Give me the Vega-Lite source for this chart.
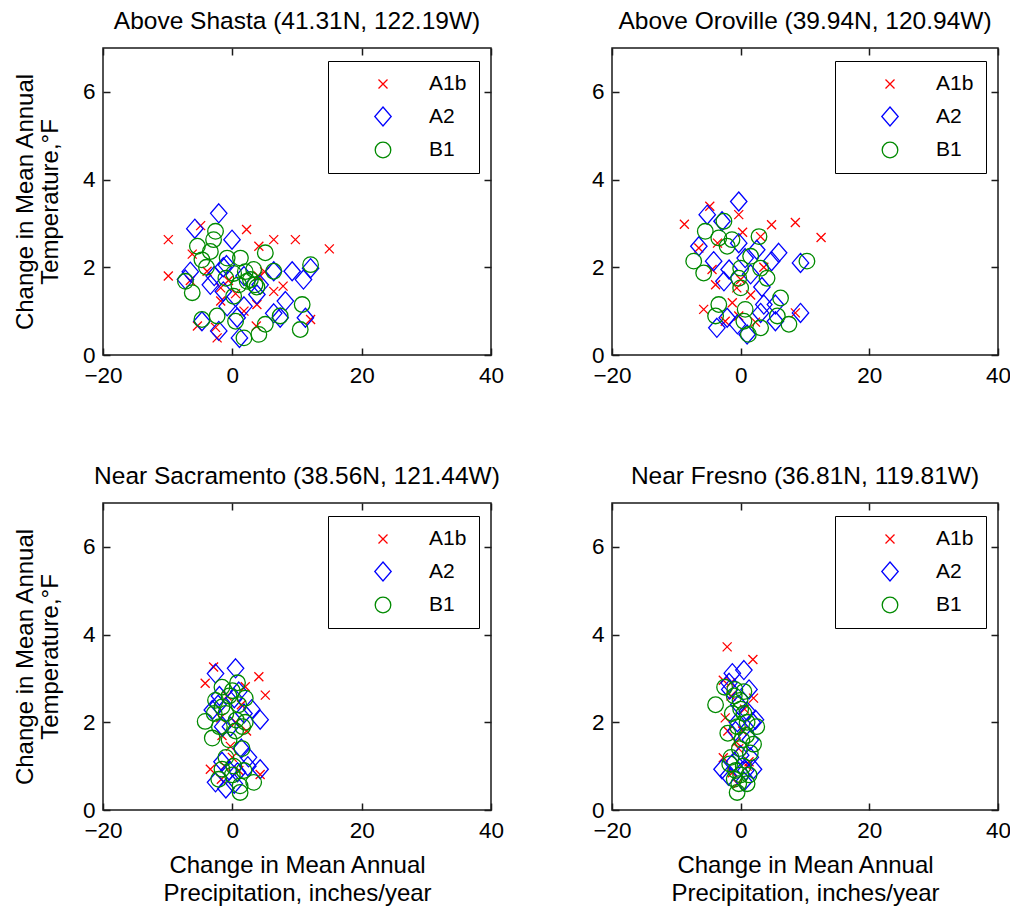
{
  "$schema": "https://vega.github.io/schema/vega-lite/v6.json",
  "background": "white",
  "padding": {"left": 12, "top": 8, "right": 2, "bottom": 8},
  "config": {
    "font": "Liberation Sans",
    "view": {"stroke": "#1a1a1a", "strokeWidth": 1.5},
    "axis": {
      "grid": false, "domain": false, "ticks": true,
      "tickSize": -7, "tickColor": "#1a1a1a", "tickWidth": 1.5,
      "labelFont": "Liberation Sans", "labelFontSize": 22.5, "labelColor": "#000",
      "labelPadding": 15, "labelFlush": false, "labelOverlap": false,
      "titleFont": "Liberation Sans", "titleFontSize": 24, "titleFontWeight": "normal",
      "titleColor": "#000"
    },
    "axisBottom": {"labelPadding": 16},
    "title": {"font": "Liberation Sans", "fontSize": 24.5, "fontWeight": "normal", "color": "#000", "offset": 13},
    "legend": {
      "title": null, "orient": "top-right", "offset": 12.5,
      "strokeColor": "#000", "fillColor": "white", "padding": 12,
      "symbolOffset": 32, "labelOffset": 35, "rowPadding": 9.5,
      "symbolSize": 400, "symbolStrokeWidth": 1.3,
      "labelFont": "Liberation Sans", "labelFontSize": 21, "labelColor": "#000"
    }
  },
  "data": {"values": [
    {"site": "Shasta", "scenario": "A1b", "precip": -9.9, "temp": 2.63},
    {"site": "Shasta", "scenario": "A1b", "precip": -9.9, "temp": 1.80},
    {"site": "Shasta", "scenario": "A1b", "precip": -4.9, "temp": 2.95},
    {"site": "Shasta", "scenario": "A1b", "precip": 2.2, "temp": 2.86},
    {"site": "Shasta", "scenario": "A1b", "precip": 6.4, "temp": 2.63},
    {"site": "Shasta", "scenario": "A1b", "precip": 9.75, "temp": 2.63},
    {"site": "Shasta", "scenario": "A1b", "precip": 15.0, "temp": 2.42},
    {"site": "Shasta", "scenario": "A1b", "precip": -6.2, "temp": 2.30},
    {"site": "Shasta", "scenario": "A1b", "precip": 4.1, "temp": 2.48},
    {"site": "Shasta", "scenario": "A1b", "precip": 7.85, "temp": 1.57},
    {"site": "Shasta", "scenario": "A1b", "precip": 6.4, "temp": 1.45},
    {"site": "Shasta", "scenario": "A1b", "precip": -1.8, "temp": 1.23},
    {"site": "Shasta", "scenario": "A1b", "precip": 3.8, "temp": 1.15},
    {"site": "Shasta", "scenario": "A1b", "precip": -5.4, "temp": 0.66},
    {"site": "Shasta", "scenario": "A1b", "precip": -2.35, "temp": 0.39},
    {"site": "Shasta", "scenario": "A1b", "precip": -2.6, "temp": 0.63},
    {"site": "Shasta", "scenario": "A1b", "precip": 3.7, "temp": 0.66},
    {"site": "Shasta", "scenario": "A1b", "precip": 12.1, "temp": 0.81},
    {"site": "Shasta", "scenario": "A1b", "precip": -3.9, "temp": 1.91},
    {"site": "Shasta", "scenario": "A1b", "precip": -1.8, "temp": 1.53},
    {"site": "Shasta", "scenario": "A1b", "precip": 1.8, "temp": 1.00},
    {"site": "Shasta", "scenario": "A1b", "precip": -0.6, "temp": 1.70},
    {"site": "Shasta", "scenario": "A1b", "precip": 0.5, "temp": 1.40},
    {"site": "Shasta", "scenario": "A1b", "precip": 5.0, "temp": 1.90},
    {"site": "Shasta", "scenario": "A1b", "precip": -6.5, "temp": 1.70},
    {"site": "Shasta", "scenario": "A1b", "precip": 4.0, "temp": 1.80},
    {"site": "Shasta", "scenario": "A2", "precip": -2.1, "temp": 3.23},
    {"site": "Shasta", "scenario": "A2", "precip": -5.8, "temp": 2.88},
    {"site": "Shasta", "scenario": "A2", "precip": -0.05, "temp": 2.63},
    {"site": "Shasta", "scenario": "A2", "precip": -1.4, "temp": 2.00},
    {"site": "Shasta", "scenario": "A2", "precip": -7.25, "temp": 1.72},
    {"site": "Shasta", "scenario": "A2", "precip": -3.4, "temp": 1.60},
    {"site": "Shasta", "scenario": "A2", "precip": 1.8, "temp": 1.80},
    {"site": "Shasta", "scenario": "A2", "precip": 4.3, "temp": 1.60},
    {"site": "Shasta", "scenario": "A2", "precip": 3.8, "temp": 1.38},
    {"site": "Shasta", "scenario": "A2", "precip": 6.4, "temp": 1.91},
    {"site": "Shasta", "scenario": "A2", "precip": 9.25, "temp": 1.91},
    {"site": "Shasta", "scenario": "A2", "precip": 11.0, "temp": 1.72},
    {"site": "Shasta", "scenario": "A2", "precip": 12.1, "temp": 1.98},
    {"site": "Shasta", "scenario": "A2", "precip": 8.2, "temp": 1.23},
    {"site": "Shasta", "scenario": "A2", "precip": 7.4, "temp": 0.85},
    {"site": "Shasta", "scenario": "A2", "precip": 6.4, "temp": 0.95},
    {"site": "Shasta", "scenario": "A2", "precip": 11.3, "temp": 0.85},
    {"site": "Shasta", "scenario": "A2", "precip": -0.8, "temp": 1.11},
    {"site": "Shasta", "scenario": "A2", "precip": 1.8, "temp": 1.11},
    {"site": "Shasta", "scenario": "A2", "precip": 0.75, "temp": 0.85},
    {"site": "Shasta", "scenario": "A2", "precip": -4.7, "temp": 0.77},
    {"site": "Shasta", "scenario": "A2", "precip": -2.1, "temp": 0.55},
    {"site": "Shasta", "scenario": "A2", "precip": 1.1, "temp": 0.39},
    {"site": "Shasta", "scenario": "A2", "precip": -0.9, "temp": 2.05},
    {"site": "Shasta", "scenario": "A2", "precip": -2.8, "temp": 1.80},
    {"site": "Shasta", "scenario": "A2", "precip": -1.4, "temp": 1.45},
    {"site": "Shasta", "scenario": "A2", "precip": -6.5, "temp": 1.90},
    {"site": "Shasta", "scenario": "B1", "precip": -2.6, "temp": 2.82},
    {"site": "Shasta", "scenario": "B1", "precip": -2.9, "temp": 2.63},
    {"site": "Shasta", "scenario": "B1", "precip": -5.4, "temp": 2.48},
    {"site": "Shasta", "scenario": "B1", "precip": -4.7, "temp": 2.17},
    {"site": "Shasta", "scenario": "B1", "precip": 5.1, "temp": 2.33},
    {"site": "Shasta", "scenario": "B1", "precip": 1.25, "temp": 2.21},
    {"site": "Shasta", "scenario": "B1", "precip": 3.3, "temp": 1.95},
    {"site": "Shasta", "scenario": "B1", "precip": 2.8, "temp": 1.72},
    {"site": "Shasta", "scenario": "B1", "precip": 0.2, "temp": 1.86},
    {"site": "Shasta", "scenario": "B1", "precip": -7.25, "temp": 1.68},
    {"site": "Shasta", "scenario": "B1", "precip": -6.2, "temp": 1.42},
    {"site": "Shasta", "scenario": "B1", "precip": 6.4, "temp": 1.91},
    {"site": "Shasta", "scenario": "B1", "precip": 12.1, "temp": 2.06},
    {"site": "Shasta", "scenario": "B1", "precip": 0.2, "temp": 1.34},
    {"site": "Shasta", "scenario": "B1", "precip": 3.8, "temp": 1.55},
    {"site": "Shasta", "scenario": "B1", "precip": -2.35, "temp": 0.89},
    {"site": "Shasta", "scenario": "B1", "precip": -4.7, "temp": 0.81},
    {"site": "Shasta", "scenario": "B1", "precip": 0.5, "temp": 0.77},
    {"site": "Shasta", "scenario": "B1", "precip": 4.1, "temp": 0.47},
    {"site": "Shasta", "scenario": "B1", "precip": 5.1, "temp": 0.70},
    {"site": "Shasta", "scenario": "B1", "precip": 10.8, "temp": 1.15},
    {"site": "Shasta", "scenario": "B1", "precip": 10.5, "temp": 0.58},
    {"site": "Shasta", "scenario": "B1", "precip": 1.8, "temp": 0.39},
    {"site": "Shasta", "scenario": "B1", "precip": 7.4, "temp": 0.89},
    {"site": "Shasta", "scenario": "B1", "precip": 2.3, "temp": 1.68},
    {"site": "Shasta", "scenario": "B1", "precip": -0.8, "temp": 2.21},
    {"site": "Shasta", "scenario": "B1", "precip": -3.4, "temp": 2.36},
    {"site": "Shasta", "scenario": "B1", "precip": 1.0, "temp": 1.60},
    {"site": "Shasta", "scenario": "B1", "precip": 2.0, "temp": 1.90},
    {"site": "Shasta", "scenario": "B1", "precip": -1.0, "temp": 1.75},
    {"site": "Shasta", "scenario": "B1", "precip": 3.5, "temp": 1.60},
    {"site": "Shasta", "scenario": "B1", "precip": -4.0, "temp": 2.00},
    {"site": "Oroville", "scenario": "A1b", "precip": -8.75, "temp": 2.98},
    {"site": "Oroville", "scenario": "A1b", "precip": -4.8, "temp": 3.39},
    {"site": "Oroville", "scenario": "A1b", "precip": -0.3, "temp": 3.20},
    {"site": "Oroville", "scenario": "A1b", "precip": 4.8, "temp": 2.97},
    {"site": "Oroville", "scenario": "A1b", "precip": 8.5, "temp": 3.02},
    {"site": "Oroville", "scenario": "A1b", "precip": 12.5, "temp": 2.68},
    {"site": "Oroville", "scenario": "A1b", "precip": 3.1, "temp": 2.70},
    {"site": "Oroville", "scenario": "A1b", "precip": -6.5, "temp": 2.44},
    {"site": "Oroville", "scenario": "A1b", "precip": -4.45, "temp": 1.95},
    {"site": "Oroville", "scenario": "A1b", "precip": -3.9, "temp": 1.60},
    {"site": "Oroville", "scenario": "A1b", "precip": 0.0, "temp": 1.72},
    {"site": "Oroville", "scenario": "A1b", "precip": 1.55, "temp": 1.37},
    {"site": "Oroville", "scenario": "A1b", "precip": -1.3, "temp": 1.19},
    {"site": "Oroville", "scenario": "A1b", "precip": -5.75, "temp": 1.04},
    {"site": "Oroville", "scenario": "A1b", "precip": -0.3, "temp": 0.89},
    {"site": "Oroville", "scenario": "A1b", "precip": -2.4, "temp": 0.77},
    {"site": "Oroville", "scenario": "A1b", "precip": 8.5, "temp": 0.96},
    {"site": "Oroville", "scenario": "A1b", "precip": -0.6, "temp": 1.53},
    {"site": "Oroville", "scenario": "A1b", "precip": -3.6, "temp": 2.55},
    {"site": "Oroville", "scenario": "A1b", "precip": 0.3, "temp": 2.80},
    {"site": "Oroville", "scenario": "A1b", "precip": 3.6, "temp": 2.00},
    {"site": "Oroville", "scenario": "A1b", "precip": 2.3, "temp": 0.75},
    {"site": "Oroville", "scenario": "A2", "precip": -0.3, "temp": 3.50},
    {"site": "Oroville", "scenario": "A2", "precip": -5.2, "temp": 3.20},
    {"site": "Oroville", "scenario": "A2", "precip": -6.5, "temp": 2.48},
    {"site": "Oroville", "scenario": "A2", "precip": -2.9, "temp": 3.05},
    {"site": "Oroville", "scenario": "A2", "precip": -4.2, "temp": 2.14},
    {"site": "Oroville", "scenario": "A2", "precip": -2.6, "temp": 1.68},
    {"site": "Oroville", "scenario": "A2", "precip": -0.3, "temp": 2.55},
    {"site": "Oroville", "scenario": "A2", "precip": 0.7, "temp": 2.21},
    {"site": "Oroville", "scenario": "A2", "precip": 2.5, "temp": 2.40},
    {"site": "Oroville", "scenario": "A2", "precip": 5.9, "temp": 2.33},
    {"site": "Oroville", "scenario": "A2", "precip": 4.8, "temp": 2.14},
    {"site": "Oroville", "scenario": "A2", "precip": 9.3, "temp": 2.10},
    {"site": "Oroville", "scenario": "A2", "precip": 3.3, "temp": 1.55},
    {"site": "Oroville", "scenario": "A2", "precip": 3.6, "temp": 1.15},
    {"site": "Oroville", "scenario": "A2", "precip": 5.4, "temp": 1.15},
    {"site": "Oroville", "scenario": "A2", "precip": 9.3, "temp": 0.96},
    {"site": "Oroville", "scenario": "A2", "precip": -2.1, "temp": 0.85},
    {"site": "Oroville", "scenario": "A2", "precip": -3.7, "temp": 0.62},
    {"site": "Oroville", "scenario": "A2", "precip": -0.5, "temp": 0.70},
    {"site": "Oroville", "scenario": "A2", "precip": 1.0, "temp": 0.47},
    {"site": "Oroville", "scenario": "A2", "precip": 5.4, "temp": 0.77},
    {"site": "Oroville", "scenario": "A2", "precip": 3.1, "temp": 0.96},
    {"site": "Oroville", "scenario": "A2", "precip": -1.8, "temp": 1.95},
    {"site": "Oroville", "scenario": "A2", "precip": 1.55, "temp": 1.84},
    {"site": "Oroville", "scenario": "B1", "precip": -2.6, "temp": 3.05},
    {"site": "Oroville", "scenario": "B1", "precip": -5.5, "temp": 2.82},
    {"site": "Oroville", "scenario": "B1", "precip": -3.4, "temp": 2.67},
    {"site": "Oroville", "scenario": "B1", "precip": -1.35, "temp": 2.63},
    {"site": "Oroville", "scenario": "B1", "precip": -7.3, "temp": 2.14},
    {"site": "Oroville", "scenario": "B1", "precip": -5.75, "temp": 1.87},
    {"site": "Oroville", "scenario": "B1", "precip": 0.0, "temp": 1.98},
    {"site": "Oroville", "scenario": "B1", "precip": 2.85, "temp": 2.70},
    {"site": "Oroville", "scenario": "B1", "precip": 1.55, "temp": 2.25},
    {"site": "Oroville", "scenario": "B1", "precip": 3.1, "temp": 1.98},
    {"site": "Oroville", "scenario": "B1", "precip": 4.1, "temp": 1.75},
    {"site": "Oroville", "scenario": "B1", "precip": 10.3, "temp": 2.14},
    {"site": "Oroville", "scenario": "B1", "precip": -0.3, "temp": 1.75},
    {"site": "Oroville", "scenario": "B1", "precip": -3.4, "temp": 1.15},
    {"site": "Oroville", "scenario": "B1", "precip": -3.9, "temp": 0.89},
    {"site": "Oroville", "scenario": "B1", "precip": 0.7, "temp": 1.04},
    {"site": "Oroville", "scenario": "B1", "precip": 6.2, "temp": 1.30},
    {"site": "Oroville", "scenario": "B1", "precip": 7.5, "temp": 0.70},
    {"site": "Oroville", "scenario": "B1", "precip": 3.1, "temp": 0.62},
    {"site": "Oroville", "scenario": "B1", "precip": 1.2, "temp": 0.47},
    {"site": "Oroville", "scenario": "B1", "precip": 0.5, "temp": 0.77},
    {"site": "Oroville", "scenario": "B1", "precip": 5.7, "temp": 0.89},
    {"site": "Oroville", "scenario": "B1", "precip": 0.0, "temp": 1.53},
    {"site": "Oroville", "scenario": "B1", "precip": -2.1, "temp": 2.48},
    {"site": "Sacramento", "scenario": "A1b", "precip": -2.9, "temp": 3.26},
    {"site": "Sacramento", "scenario": "A1b", "precip": -4.2, "temp": 2.89},
    {"site": "Sacramento", "scenario": "A1b", "precip": 4.1, "temp": 3.04},
    {"site": "Sacramento", "scenario": "A1b", "precip": 5.1, "temp": 2.62},
    {"site": "Sacramento", "scenario": "A1b", "precip": 2.0, "temp": 2.81},
    {"site": "Sacramento", "scenario": "A1b", "precip": -0.3, "temp": 1.45},
    {"site": "Sacramento", "scenario": "A1b", "precip": -3.4, "temp": 0.93},
    {"site": "Sacramento", "scenario": "A1b", "precip": 4.3, "temp": 0.81},
    {"site": "Sacramento", "scenario": "A1b", "precip": -1.7, "temp": 0.70},
    {"site": "Sacramento", "scenario": "A1b", "precip": 0.0, "temp": 1.20},
    {"site": "Sacramento", "scenario": "A1b", "precip": -1.6, "temp": 1.70},
    {"site": "Sacramento", "scenario": "A1b", "precip": 1.4, "temp": 2.40},
    {"site": "Sacramento", "scenario": "A1b", "precip": -1.8, "temp": 2.10},
    {"site": "Sacramento", "scenario": "A1b", "precip": -0.8, "temp": 2.60},
    {"site": "Sacramento", "scenario": "A1b", "precip": 1.0, "temp": 0.90},
    {"site": "Sacramento", "scenario": "A1b", "precip": 0.5, "temp": 2.00},
    {"site": "Sacramento", "scenario": "A1b", "precip": -1.2, "temp": 1.00},
    {"site": "Sacramento", "scenario": "A1b", "precip": 2.2, "temp": 1.80},
    {"site": "Sacramento", "scenario": "A2", "precip": 0.5, "temp": 3.23},
    {"site": "Sacramento", "scenario": "A2", "precip": -2.6, "temp": 3.11},
    {"site": "Sacramento", "scenario": "A2", "precip": -3.1, "temp": 2.28},
    {"site": "Sacramento", "scenario": "A2", "precip": 4.3, "temp": 2.06},
    {"site": "Sacramento", "scenario": "A2", "precip": 3.0, "temp": 2.30},
    {"site": "Sacramento", "scenario": "A2", "precip": 0.3, "temp": 2.55},
    {"site": "Sacramento", "scenario": "A2", "precip": 1.4, "temp": 1.40},
    {"site": "Sacramento", "scenario": "A2", "precip": 2.4, "temp": 1.00},
    {"site": "Sacramento", "scenario": "A2", "precip": 4.3, "temp": 0.93},
    {"site": "Sacramento", "scenario": "A2", "precip": -2.6, "temp": 0.63},
    {"site": "Sacramento", "scenario": "A2", "precip": -1.0, "temp": 0.49},
    {"site": "Sacramento", "scenario": "A2", "precip": 0.8, "temp": 0.86},
    {"site": "Sacramento", "scenario": "A2", "precip": -1.6, "temp": 1.10},
    {"site": "Sacramento", "scenario": "A2", "precip": -2.0, "temp": 2.60},
    {"site": "Sacramento", "scenario": "A2", "precip": -0.3, "temp": 1.90},
    {"site": "Sacramento", "scenario": "A2", "precip": 1.0, "temp": 2.70},
    {"site": "Sacramento", "scenario": "A2", "precip": -1.5, "temp": 1.90},
    {"site": "Sacramento", "scenario": "A2", "precip": 2.5, "temp": 1.20},
    {"site": "Sacramento", "scenario": "A2", "precip": -0.5, "temp": 0.90},
    {"site": "Sacramento", "scenario": "A2", "precip": 1.8, "temp": 2.20},
    {"site": "Sacramento", "scenario": "A2", "precip": -2.2, "temp": 2.40},
    {"site": "Sacramento", "scenario": "A2", "precip": 0.3, "temp": 0.60},
    {"site": "Sacramento", "scenario": "B1", "precip": -4.2, "temp": 2.02},
    {"site": "Sacramento", "scenario": "B1", "precip": -3.1, "temp": 1.64},
    {"site": "Sacramento", "scenario": "B1", "precip": -1.6, "temp": 2.80},
    {"site": "Sacramento", "scenario": "B1", "precip": 0.0, "temp": 2.72},
    {"site": "Sacramento", "scenario": "B1", "precip": 2.0, "temp": 2.55},
    {"site": "Sacramento", "scenario": "B1", "precip": -1.6, "temp": 2.35},
    {"site": "Sacramento", "scenario": "B1", "precip": 0.6, "temp": 2.05},
    {"site": "Sacramento", "scenario": "B1", "precip": 1.6, "temp": 1.90},
    {"site": "Sacramento", "scenario": "B1", "precip": -1.6, "temp": 0.93},
    {"site": "Sacramento", "scenario": "B1", "precip": -2.1, "temp": 0.70},
    {"site": "Sacramento", "scenario": "B1", "precip": 1.2, "temp": 0.55},
    {"site": "Sacramento", "scenario": "B1", "precip": 3.3, "temp": 0.63},
    {"site": "Sacramento", "scenario": "B1", "precip": 1.2, "temp": 0.40},
    {"site": "Sacramento", "scenario": "B1", "precip": 0.2, "temp": 1.00},
    {"site": "Sacramento", "scenario": "B1", "precip": 1.5, "temp": 1.40},
    {"site": "Sacramento", "scenario": "B1", "precip": -0.5, "temp": 1.60},
    {"site": "Sacramento", "scenario": "B1", "precip": -2.6, "temp": 2.50},
    {"site": "Sacramento", "scenario": "B1", "precip": -1.0, "temp": 2.20},
    {"site": "Sacramento", "scenario": "B1", "precip": 1.0, "temp": 2.40},
    {"site": "Sacramento", "scenario": "B1", "precip": 0.5, "temp": 1.80},
    {"site": "Sacramento", "scenario": "B1", "precip": -0.5, "temp": 2.60},
    {"site": "Sacramento", "scenario": "B1", "precip": 2.0, "temp": 2.00},
    {"site": "Sacramento", "scenario": "B1", "precip": -2.0, "temp": 1.90},
    {"site": "Sacramento", "scenario": "B1", "precip": 0.0, "temp": 0.80},
    {"site": "Sacramento", "scenario": "B1", "precip": 1.8, "temp": 0.90},
    {"site": "Sacramento", "scenario": "B1", "precip": -1.0, "temp": 1.20},
    {"site": "Sacramento", "scenario": "B1", "precip": 0.8, "temp": 2.90},
    {"site": "Sacramento", "scenario": "B1", "precip": -2.8, "temp": 2.20},
    {"site": "Fresno", "scenario": "A1b", "precip": -2.1, "temp": 3.72},
    {"site": "Fresno", "scenario": "A1b", "precip": 1.9, "temp": 3.43},
    {"site": "Fresno", "scenario": "A1b", "precip": -2.7, "temp": 2.96},
    {"site": "Fresno", "scenario": "A1b", "precip": 2.0, "temp": 2.55},
    {"site": "Fresno", "scenario": "A1b", "precip": -2.4, "temp": 2.10},
    {"site": "Fresno", "scenario": "A1b", "precip": -2.7, "temp": 1.19},
    {"site": "Fresno", "scenario": "A1b", "precip": -0.7, "temp": 1.55},
    {"site": "Fresno", "scenario": "A1b", "precip": -1.3, "temp": 0.85},
    {"site": "Fresno", "scenario": "A1b", "precip": 1.0, "temp": 1.00},
    {"site": "Fresno", "scenario": "A1b", "precip": -1.5, "temp": 2.60},
    {"site": "Fresno", "scenario": "A1b", "precip": 0.3, "temp": 1.80},
    {"site": "Fresno", "scenario": "A1b", "precip": -0.5, "temp": 0.60},
    {"site": "Fresno", "scenario": "A1b", "precip": -1.5, "temp": 2.90},
    {"site": "Fresno", "scenario": "A1b", "precip": 0.6, "temp": 2.30},
    {"site": "Fresno", "scenario": "A1b", "precip": -0.3, "temp": 1.40},
    {"site": "Fresno", "scenario": "A1b", "precip": 1.3, "temp": 1.10},
    {"site": "Fresno", "scenario": "A1b", "precip": -2.0, "temp": 1.80},
    {"site": "Fresno", "scenario": "A2", "precip": 0.5, "temp": 3.19},
    {"site": "Fresno", "scenario": "A2", "precip": -1.3, "temp": 3.12},
    {"site": "Fresno", "scenario": "A2", "precip": -2.9, "temp": 0.93},
    {"site": "Fresno", "scenario": "A2", "precip": -1.9, "temp": 0.78},
    {"site": "Fresno", "scenario": "A2", "precip": 2.0, "temp": 0.93},
    {"site": "Fresno", "scenario": "A2", "precip": 2.3, "temp": 2.06},
    {"site": "Fresno", "scenario": "A2", "precip": 1.5, "temp": 1.60},
    {"site": "Fresno", "scenario": "A2", "precip": 0.0, "temp": 1.25},
    {"site": "Fresno", "scenario": "A2", "precip": -0.3, "temp": 2.40},
    {"site": "Fresno", "scenario": "A2", "precip": 1.3, "temp": 2.75},
    {"site": "Fresno", "scenario": "A2", "precip": -1.7, "temp": 2.75},
    {"site": "Fresno", "scenario": "A2", "precip": 0.5, "temp": 0.65},
    {"site": "Fresno", "scenario": "A2", "precip": -0.8, "temp": 1.80},
    {"site": "Fresno", "scenario": "A2", "precip": 1.0, "temp": 2.25},
    {"site": "Fresno", "scenario": "A2", "precip": -1.8, "temp": 2.90},
    {"site": "Fresno", "scenario": "A2", "precip": -0.5, "temp": 2.00},
    {"site": "Fresno", "scenario": "A2", "precip": 1.5, "temp": 1.20},
    {"site": "Fresno", "scenario": "A2", "precip": -1.0, "temp": 1.10},
    {"site": "Fresno", "scenario": "A2", "precip": 0.8, "temp": 0.90},
    {"site": "Fresno", "scenario": "A2", "precip": 1.8, "temp": 2.00},
    {"site": "Fresno", "scenario": "B1", "precip": -3.9, "temp": 2.40},
    {"site": "Fresno", "scenario": "B1", "precip": -2.0, "temp": 1.75},
    {"site": "Fresno", "scenario": "B1", "precip": 2.5, "temp": 1.90},
    {"site": "Fresno", "scenario": "B1", "precip": -0.55, "temp": 0.40},
    {"site": "Fresno", "scenario": "B1", "precip": -0.3, "temp": 0.60},
    {"site": "Fresno", "scenario": "B1", "precip": -1.7, "temp": 1.05},
    {"site": "Fresno", "scenario": "B1", "precip": 1.3, "temp": 0.80},
    {"site": "Fresno", "scenario": "B1", "precip": -0.9, "temp": 2.75},
    {"site": "Fresno", "scenario": "B1", "precip": -0.1, "temp": 2.50},
    {"site": "Fresno", "scenario": "B1", "precip": -1.3, "temp": 2.20},
    {"site": "Fresno", "scenario": "B1", "precip": 0.9, "temp": 1.70},
    {"site": "Fresno", "scenario": "B1", "precip": 2.0, "temp": 1.50},
    {"site": "Fresno", "scenario": "B1", "precip": -0.2, "temp": 1.40},
    {"site": "Fresno", "scenario": "B1", "precip": 0.5, "temp": 2.20},
    {"site": "Fresno", "scenario": "B1", "precip": -0.8, "temp": 0.90},
    {"site": "Fresno", "scenario": "B1", "precip": 0.4, "temp": 1.00},
    {"site": "Fresno", "scenario": "B1", "precip": -1.0, "temp": 2.60},
    {"site": "Fresno", "scenario": "B1", "precip": 0.5, "temp": 2.70},
    {"site": "Fresno", "scenario": "B1", "precip": 1.0, "temp": 2.00},
    {"site": "Fresno", "scenario": "B1", "precip": -0.5, "temp": 1.90},
    {"site": "Fresno", "scenario": "B1", "precip": 0.0, "temp": 2.30},
    {"site": "Fresno", "scenario": "B1", "precip": 1.5, "temp": 1.30},
    {"site": "Fresno", "scenario": "B1", "precip": -1.5, "temp": 1.20},
    {"site": "Fresno", "scenario": "B1", "precip": 0.0, "temp": 0.80},
    {"site": "Fresno", "scenario": "B1", "precip": 1.0, "temp": 0.60},
    {"site": "Fresno", "scenario": "B1", "precip": -1.0, "temp": 0.70},
    {"site": "Fresno", "scenario": "B1", "precip": -2.5, "temp": 2.80},
    {"site": "Fresno", "scenario": "B1", "precip": 0.2, "temp": 1.60}
  ]},
  "columns": 2,
  "bounds": "flush",
  "spacing": {"row": 148, "column": 121},
  "resolve": {"legend": {"color": "independent", "shape": "independent"}},
  "concat": [
    {
      "title": "Above Shasta (41.31N, 122.19W)",
      "width": 388, "height": 307,
      "transform": [{"filter": "datum.site === 'Shasta'"}],
      "resolve": {"axis": {"x": "independent", "y": "independent"}},
      "layer": [
        {
          "mark": {"type": "point", "filled": false, "strokeWidth": 1.3, "opacity": 1},
          "encoding": {
            "x": {"field": "precip", "type": "quantitative", "scale": {"domain": [-20, 40], "nice": false, "zero": false}, "axis": {"orient": "bottom", "values": [-20, 0, 20, 40], "title": null}},
            "y": {"field": "temp", "type": "quantitative", "scale": {"domain": [0, 7], "nice": false}, "axis": {"orient": "left", "values": [0, 2, 4, 6], "title": ["Change in Mean Annual", "Temperature,°F"], "titlePadding": 20, "titleLineHeight": 25}},
            "color": {"field": "scenario", "type": "nominal", "scale": {"domain": ["A1b", "A2", "B1"], "range": ["#ff0000", "#0000ff", "#008a00"]}, "legend": {}},
            "shape": {"field": "scenario", "type": "nominal", "scale": {"domain": ["A1b", "A2", "B1"], "range": ["M-0.45,-0.45L0.45,0.45M-0.45,0.45L0.45,-0.45", "M0,-0.95L0.82,0L0,0.95L-0.82,0Z", "M0.78,0A0.78,0.78,0,1,1,-0.78,0A0.78,0.78,0,1,1,0.78,0Z"]}, "legend": {}},
            "size": {"value": 400}
          }
        },
        {
          "mark": {"type": "point", "opacity": 0},
          "encoding": {
            "x": {"field": "precip", "type": "quantitative", "axis": {"orient": "top", "values": [-20, 0, 20, 40], "labels": false, "title": null}},
            "y": {"field": "temp", "type": "quantitative", "axis": {"orient": "right", "values": [0, 2, 4, 6], "labels": false, "title": null}}
          }
        }
      ]
    },
    {
      "title": "Above Oroville (39.94N, 120.94W)",
      "width": 386, "height": 307,
      "transform": [{"filter": "datum.site === 'Oroville'"}],
      "resolve": {"axis": {"x": "independent", "y": "independent"}},
      "layer": [
        {
          "mark": {"type": "point", "filled": false, "strokeWidth": 1.3, "opacity": 1},
          "encoding": {
            "x": {"field": "precip", "type": "quantitative", "scale": {"domain": [-20, 40], "nice": false, "zero": false}, "axis": {"orient": "bottom", "values": [-20, 0, 20, 40], "title": null}},
            "y": {"field": "temp", "type": "quantitative", "scale": {"domain": [0, 7], "nice": false}, "axis": {"orient": "left", "values": [0, 2, 4, 6], "title": null}},
            "color": {"field": "scenario", "type": "nominal", "scale": {"domain": ["A1b", "A2", "B1"], "range": ["#ff0000", "#0000ff", "#008a00"]}, "legend": {}},
            "shape": {"field": "scenario", "type": "nominal", "scale": {"domain": ["A1b", "A2", "B1"], "range": ["M-0.45,-0.45L0.45,0.45M-0.45,0.45L0.45,-0.45", "M0,-0.95L0.82,0L0,0.95L-0.82,0Z", "M0.78,0A0.78,0.78,0,1,1,-0.78,0A0.78,0.78,0,1,1,0.78,0Z"]}, "legend": {}},
            "size": {"value": 400}
          }
        },
        {
          "mark": {"type": "point", "opacity": 0},
          "encoding": {
            "x": {"field": "precip", "type": "quantitative", "axis": {"orient": "top", "values": [-20, 0, 20, 40], "labels": false, "title": null}},
            "y": {"field": "temp", "type": "quantitative", "axis": {"orient": "right", "values": [0, 2, 4, 6], "labels": false, "title": null}}
          }
        }
      ]
    },
    {
      "title": "Near Sacramento (38.56N, 121.44W)",
      "width": 388, "height": 307,
      "transform": [{"filter": "datum.site === 'Sacramento'"}],
      "resolve": {"axis": {"x": "independent", "y": "independent"}},
      "layer": [
        {
          "mark": {"type": "point", "filled": false, "strokeWidth": 1.3, "opacity": 1},
          "encoding": {
            "x": {"field": "precip", "type": "quantitative", "scale": {"domain": [-20, 40], "nice": false, "zero": false}, "axis": {"orient": "bottom", "values": [-20, 0, 20, 40], "title": ["Change in Mean Annual", "Precipitation, inches/year"], "titlePadding": 12, "titleLineHeight": 28}},
            "y": {"field": "temp", "type": "quantitative", "scale": {"domain": [0, 7], "nice": false}, "axis": {"orient": "left", "values": [0, 2, 4, 6], "title": ["Change in Mean Annual", "Temperature,°F"], "titlePadding": 20, "titleLineHeight": 25}},
            "color": {"field": "scenario", "type": "nominal", "scale": {"domain": ["A1b", "A2", "B1"], "range": ["#ff0000", "#0000ff", "#008a00"]}, "legend": {}},
            "shape": {"field": "scenario", "type": "nominal", "scale": {"domain": ["A1b", "A2", "B1"], "range": ["M-0.45,-0.45L0.45,0.45M-0.45,0.45L0.45,-0.45", "M0,-0.95L0.82,0L0,0.95L-0.82,0Z", "M0.78,0A0.78,0.78,0,1,1,-0.78,0A0.78,0.78,0,1,1,0.78,0Z"]}, "legend": {}},
            "size": {"value": 400}
          }
        },
        {
          "mark": {"type": "point", "opacity": 0},
          "encoding": {
            "x": {"field": "precip", "type": "quantitative", "axis": {"orient": "top", "values": [-20, 0, 20, 40], "labels": false, "title": null}},
            "y": {"field": "temp", "type": "quantitative", "axis": {"orient": "right", "values": [0, 2, 4, 6], "labels": false, "title": null}}
          }
        }
      ]
    },
    {
      "title": "Near Fresno (36.81N, 119.81W)",
      "width": 386, "height": 307,
      "transform": [{"filter": "datum.site === 'Fresno'"}],
      "resolve": {"axis": {"x": "independent", "y": "independent"}},
      "layer": [
        {
          "mark": {"type": "point", "filled": false, "strokeWidth": 1.3, "opacity": 1},
          "encoding": {
            "x": {"field": "precip", "type": "quantitative", "scale": {"domain": [-20, 40], "nice": false, "zero": false}, "axis": {"orient": "bottom", "values": [-20, 0, 20, 40], "title": ["Change in Mean Annual", "Precipitation, inches/year"], "titlePadding": 12, "titleLineHeight": 28}},
            "y": {"field": "temp", "type": "quantitative", "scale": {"domain": [0, 7], "nice": false}, "axis": {"orient": "left", "values": [0, 2, 4, 6], "title": null}},
            "color": {"field": "scenario", "type": "nominal", "scale": {"domain": ["A1b", "A2", "B1"], "range": ["#ff0000", "#0000ff", "#008a00"]}, "legend": {}},
            "shape": {"field": "scenario", "type": "nominal", "scale": {"domain": ["A1b", "A2", "B1"], "range": ["M-0.45,-0.45L0.45,0.45M-0.45,0.45L0.45,-0.45", "M0,-0.95L0.82,0L0,0.95L-0.82,0Z", "M0.78,0A0.78,0.78,0,1,1,-0.78,0A0.78,0.78,0,1,1,0.78,0Z"]}, "legend": {}},
            "size": {"value": 400}
          }
        },
        {
          "mark": {"type": "point", "opacity": 0},
          "encoding": {
            "x": {"field": "precip", "type": "quantitative", "axis": {"orient": "top", "values": [-20, 0, 20, 40], "labels": false, "title": null}},
            "y": {"field": "temp", "type": "quantitative", "axis": {"orient": "right", "values": [0, 2, 4, 6], "labels": false, "title": null}}
          }
        }
      ]
    }
  ]
}
